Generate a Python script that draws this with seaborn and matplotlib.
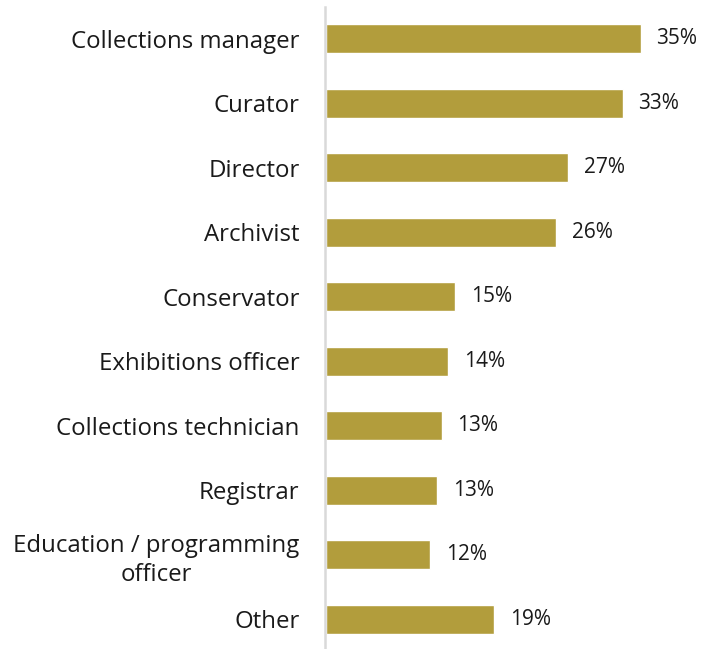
import matplotlib
matplotlib.use("Agg")
import matplotlib.pyplot as plt
import seaborn as sns
import pandas as pd

roles = [
    "Collections manager",
    "Curator",
    "Director",
    "Archivist",
    "Conservator",
    "Exhibitions officer",
    "Collections technician",
    "Registrar",
    "Education / programming\nofficer",
    "Other",
]
shares = [35.0, 33.0, 26.9, 25.6, 14.4, 13.6, 12.85, 12.35, 11.55, 18.7]
share_labels = ["35%", "33%", "27%", "26%", "15%", "14%", "13%", "13%", "12%", "19%"]

BAR_COLOR = "#B29D3C"
AXIS_GREY = "#D9D9D9"


def main():
    sns.set_theme(style="white")
    plt.rcParams["font.family"] = ["Open Sans", "DejaVu Sans"]

    df = pd.DataFrame({"role": roles, "share": shares})

    fig = plt.figure(figsize=(7.18, 6.49), dpi=100)
    # axes placed so that x=0 sits at the grey rule and the rows fill the height
    ax = fig.add_axes([326 / 718, -2.5 / 649, 390 / 718, 645 / 649])

    sns.barplot(data=df, x="share", y="role", orient="h", color=BAR_COLOR,
                saturation=1, width=0.45, ax=ax)

    ax.set_xlim(0, 390 / 8.99)
    ax.set_ylim(len(roles) - 0.5, -0.5)
    ax.set_xlabel("")
    ax.set_ylabel("")
    ax.set_xticks([])
    ax.tick_params(axis="y", length=0, pad=18, labelsize=17.3,
                   labelcolor="#1A1A1A")

    for side in ["top", "right", "bottom"]:
        ax.spines[side].set_visible(False)
    ax.spines["left"].set_color(AXIS_GREY)
    ax.spines["left"].set_linewidth(1.8)
    ax.spines["left"].set_position(("data", -0.15))

    for i, (val, txt) in enumerate(zip(shares, share_labels)):
        ax.text(val + 1.75, i, txt, va="center", ha="left",
                fontsize=15, color="#1A1A1A")

    # two-line label is centred under itself, with looser leading
    fig.canvas.draw()
    for lab in ax.get_yticklabels():
        lab.set_multialignment("center")
        lab.set_linespacing(1.3)

    fig.savefig("out.png", dpi=100)
    plt.close(fig)


if __name__ == "__main__":
    main()
